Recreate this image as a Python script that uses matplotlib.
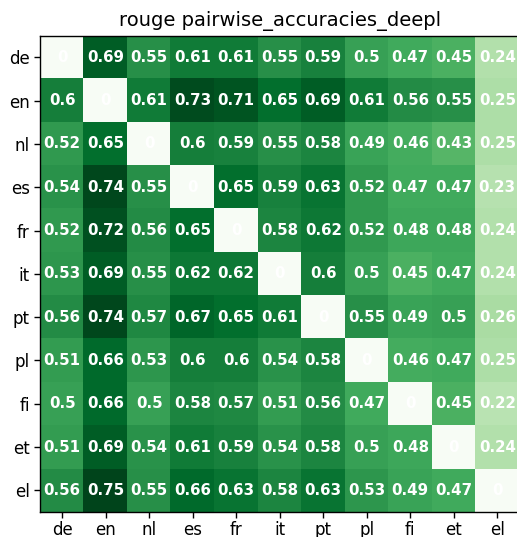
import numpy as np
import matplotlib
matplotlib.use("Agg")
import matplotlib.pyplot as plt

langs = ["de", "en", "nl", "es", "fr", "it", "pt", "pl", "fi", "et", "el"]

# rouge scores, row = source, column = target
scores = np.array([
    [0,    0.69, 0.55, 0.61, 0.61, 0.55, 0.59, 0.5,  0.47, 0.45, 0.24],
    [0.6,  0,    0.61, 0.73, 0.71, 0.65, 0.69, 0.61, 0.56, 0.55, 0.25],
    [0.52, 0.65, 0,    0.6,  0.59, 0.55, 0.58, 0.49, 0.46, 0.43, 0.25],
    [0.54, 0.74, 0.55, 0,    0.65, 0.59, 0.63, 0.52, 0.47, 0.47, 0.23],
    [0.52, 0.72, 0.56, 0.65, 0,    0.58, 0.62, 0.52, 0.48, 0.48, 0.24],
    [0.53, 0.69, 0.55, 0.62, 0.62, 0,    0.6,  0.5,  0.45, 0.47, 0.24],
    [0.56, 0.74, 0.57, 0.67, 0.65, 0.61, 0,    0.55, 0.49, 0.5,  0.26],
    [0.51, 0.66, 0.53, 0.6,  0.6,  0.54, 0.58, 0,    0.46, 0.47, 0.25],
    [0.5,  0.66, 0.5,  0.58, 0.57, 0.51, 0.56, 0.47, 0,    0.45, 0.22],
    [0.51, 0.69, 0.54, 0.61, 0.59, 0.54, 0.58, 0.5,  0.48, 0,    0.24],
    [0.56, 0.75, 0.55, 0.66, 0.63, 0.58, 0.63, 0.53, 0.49, 0.47, 0],
])

fig = plt.figure(figsize=(5.17, 5.37), dpi=100)
ax = fig.add_axes([0.078, 0.0466, 0.926, 0.887])
ax.imshow(scores, cmap="Greens", aspect="auto")

for i in range(len(langs)):
    for j in range(len(langs)):
        ax.text(j, i, f"{scores[i, j]:.2g}" if scores[i, j] != 0 else "0",
                ha="center", va="center", color="w", fontweight="bold", fontsize=10.8)

ax.set_xticks(range(len(langs)))
ax.set_xticklabels(langs, fontsize=12)
ax.set_yticks(range(len(langs)))
ax.set_yticklabels(langs, fontsize=12)
ax.tick_params(length=4.2, width=1)
ax.tick_params(axis="x", pad=2.5)
for s in ax.spines.values():
    s.set_linewidth(1)
ax.set_title("rouge pairwise_accuracies_deepl", fontsize=14, pad=7)

fig.savefig("out.png", dpi=100)
